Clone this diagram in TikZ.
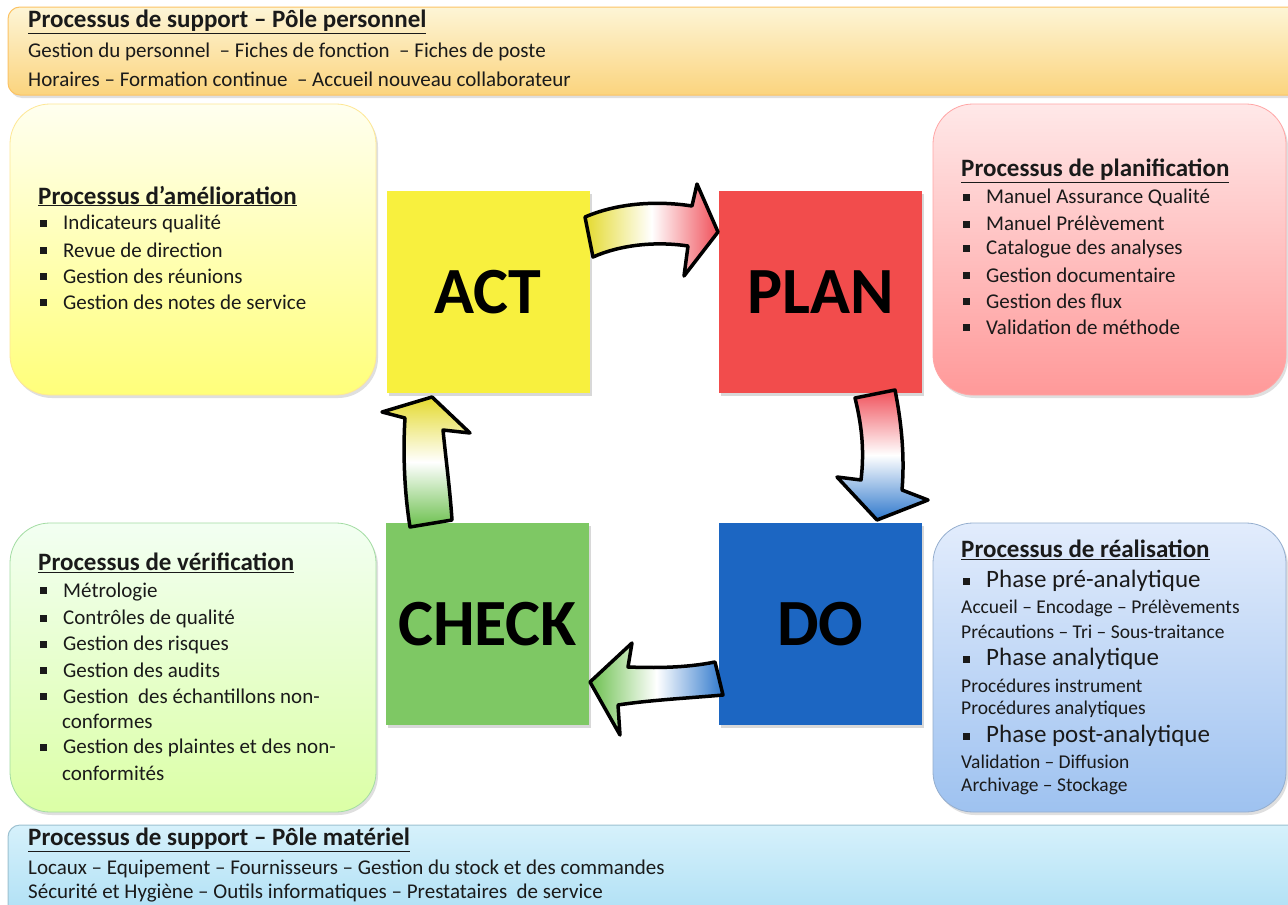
\documentclass[tikz,border=0pt]{standalone}
\usepackage{fontspec}
\setmainfont{Carlito}
\usetikzlibrary{shadows,positioning}

\definecolor{txtcol}{HTML}{1A1A1A}
\definecolor{actcol}{HTML}{F8F03E}
\definecolor{plancol}{HTML}{F24C4C}
\definecolor{checkcol}{HTML}{7EC864}
\definecolor{docol}{HTML}{1C66C2}
\definecolor{jauneA}{HTML}{FDF5D6}
\definecolor{jauneB}{HTML}{FBD47E}
\definecolor{cielA}{HTML}{D6F1FB}
\definecolor{cielB}{HTML}{A9DDF4}
\definecolor{bleuA}{HTML}{E2ECFC}
\definecolor{bleuB}{HTML}{9EC2F0}
\definecolor{flecheJ}{HTML}{E4DA2E}
\definecolor{flecheR}{HTML}{F0505A}
\definecolor{flecheB}{HTML}{2F78CC}
\definecolor{flecheV}{HTML}{6CC04E}

\newcommand{\puce}{\makebox[23pt][l]{\rule[3pt]{7pt}{7pt}}}
\newcommand{\titre}[1]{\underline{#1}}

\tikzset{
  box/.style={rounded corners=40pt, line width=0.8pt,
    drop shadow={opacity=0.25, shadow xshift=2pt, shadow yshift=-3pt}},
  banner/.style={rounded corners=12pt, line width=1pt,
    drop shadow={opacity=0.25, shadow xshift=2pt, shadow yshift=-3pt}},
  pdca/.style={minimum width=203pt, minimum height=202pt, inner sep=0pt,
    text=black, font=\bfseries\fontsize{66}{70}\selectfont,
    drop shadow={opacity=0.3, shadow xshift=2pt, shadow yshift=-3pt}},
  ttl/.style={anchor=west, inner sep=0pt, text=txtcol,
    font=\bfseries\fontsize{25}{28}\selectfont},
  txt/.style={anchor=west, inner sep=0pt, text=txtcol,
    font=\fontsize{21}{24}\selectfont},
  petit/.style={anchor=west, inner sep=0pt, text=txtcol,
    font=\fontsize{19.5}{22}\selectfont},
  phase/.style={anchor=west, inner sep=0pt, text=txtcol,
    font=\fontsize{25}{28}\selectfont},
  blockarrow/.style={draw=black, line width=3.5pt, line join=round},
}

\begin{document}
\begin{tikzpicture}[x=1pt, y=-1pt]
  \clip (0,0) rectangle (1288,905);
  \fill[white] (0,0) rectangle (1288,905);

  % bandeaux support
  \draw[banner, draw=jauneB!80!orange, top color=jauneA,
    bottom color=jauneB] (8,7) rectangle (1310,95);
  \draw[banner, draw=cielB!70!gray, top color=cielA,
    bottom color=cielB] (8,825) rectangle (1310,930);

  \node[ttl] (perso) at (28,22) {\titre{Processus de support – Pôle personnel}};
  \node[txt] (perso1) at (28,52) {Gestion du personnel \ – Fiches de fonction \ – Fiches de poste};
  \node[txt] (perso2) at (28,79) {Horaires – Formation continue \ – Accueil nouveau collaborateur};

  \node[ttl] (mat) at (28,840) {\titre{Processus de support – Pôle matériel}};
  \node[txt] (mat1) at (28,869) {Locaux – Equipement – Fournisseurs – Gestion du stock et des commandes};
  \node[txt] (mat2) at (28,893) {Sécurité et Hygiène – Outils informatiques – Prestataires \ de service};

  % boites processus
  \draw[box, draw=yellow!60!orange!40!white, top color=yellow!6!white,
    bottom color=yellow!52!white] (10,104) rectangle (376,395);
  \draw[box, draw=red!35!white, top color=red!9!white,
    bottom color=red!40!white] (933,104) rectangle (1286,395);
  \draw[box, draw=green!45!gray!50!white, top color=green!5!white,
    bottom color=green!40!yellow!35!white] (10,523) rectangle (376,812);
  \draw[box, draw=bleuB!70!gray, top color=bleuA,
    bottom color=bleuB] (933,523) rectangle (1286,812);

  % cycle PDCA
  \node[pdca, fill=actcol] (act) at (488,292) {ACT};
  \node[pdca, fill=plancol] (plan) at (820.5,292) {PLAN};
  \node[pdca, fill=checkcol] (check) at (487.5,624) {CHECK};
  \node[pdca, fill=docol] (do) at (820.5,624) {DO};

  % fleches courbes
  \draw[blockarrow, left color=flecheJ, right color=flecheR, middle color=white]
    (585,217) .. controls (620,202) and (660,201) .. (692,206) -- (697,184)
    -- (718,232) -- (684,276) -- (688,246)
    .. controls (655,241) and (620,245) .. (593,257) -- cycle;
  \draw[blockarrow, top color=flecheR, bottom color=flecheB, middle color=white]
    (855,398) .. controls (863,430) and (864,455) .. (861,480) -- (837,477)
    -- (877,520) -- (928,500) -- (902,490)
    .. controls (905,455) and (901,420) .. (895,390) -- cycle;
  \draw[blockarrow, left color=flecheV, right color=flecheB, middle color=white]
    (715,662) .. controls (685,668) and (655,668) .. (628,667) -- (632,643)
    -- (590,682) -- (620,735) -- (618,705)
    .. controls (650,700) and (690,698) .. (723,695) -- cycle;
  \draw[blockarrow, top color=flecheJ, bottom color=flecheV, middle color=white]
    (410,527) .. controls (404,490) and (403,450) .. (405,418) -- (382,412)
    -- (432,397) -- (470,433) -- (443,430)
    .. controls (446,460) and (450,490) .. (452,520) -- cycle;

  % textes amelioration
  \node[ttl] (amel) at (38,196) {\titre{Processus d'amélioration}};
  \foreach \t [count=\i] in {Indicateurs qualité, Revue de direction,
      Gestion des réunions, Gestion des notes de service}
    \node[txt] (amel\i) at (40,198+26*\i) {\puce\t};

  % textes planification
  \node[ttl] (plani) at (961,171) {\titre{Processus de planification}};
  \foreach \t [count=\i] in {Manuel Assurance Qualité, Manuel Prélèvement,
      Catalogue des analyses, Gestion documentaire, Gestion des flux,
      Validation de méthode}
    \node[txt] (plani\i) at (963,172+25.8*\i) {\puce\t};

  % textes verification
  \node[ttl] (verif) at (38,563) {\titre{Processus de vérification}};
  \foreach \y/\t [count=\i] in {592/Métrologie, 619/Contrôles de qualité,
      645/Gestion des risques, 670/Gestion des audits,
      696/Gestion \ des échantillons non-, 748/Gestion des plaintes et des non-}
    \node[txt] (verif\i) at (40,\y) {\puce\t};
  \node[txt] (verif7) at (62,721) {conformes};
  \node[txt] (verif8) at (62,773) {conformités};

  % textes realisation
  \node[ttl] (real) at (961,550) {\titre{Processus de réalisation}};
  \node[phase] (pre) at (963,581) {\puce Phase pré-analytique};
  \node[petit] (pre1) at (961,608) {Accueil – Encodage – Prélèvements};
  \node[petit] (pre2) at (961,632) {Précautions – Tri – Sous-traitance};
  \node[phase] (ana) at (963,659) {\puce Phase analytique};
  \node[petit] (ana1) at (961,686) {Procédures instrument};
  \node[petit] (ana2) at (961,709) {Procédures analytiques};
  \node[phase] (post) at (963,736) {\puce Phase post-analytique};
  \node[petit] (post1) at (961,762) {Validation – Diffusion};
  \node[petit] (post2) at (961,786) {Archivage – Stockage};
\end{tikzpicture}
\end{document}
